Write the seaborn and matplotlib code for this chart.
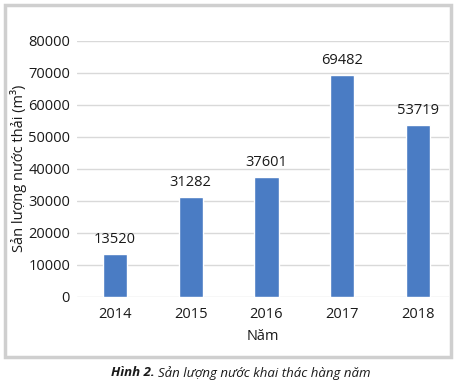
import matplotlib
matplotlib.use("Agg")
import matplotlib.pyplot as plt
import seaborn as sns
import pandas as pd
from matplotlib.patches import Rectangle

# data
years = ["2014", "2015", "2016", "2017", "2018"]
volumes = [13520, 31282, 37601, 69482, 53719]

df = pd.DataFrame({"year": years, "volume": volumes})

sns.set_style("white")
plt.rcParams["font.family"] = ["Open Sans", "DejaVu Sans"]

W, H = 457, 388
fig = plt.figure(figsize=(W / 100, H / 100), dpi=100)
ax = fig.add_axes([77 / W, 1 - 297 / H, (449 - 77) / W, (297 - 41) / H])

txt = "#1a1a1a"
fs = 10.5

sns.barplot(data=df, x="year", y="volume", color="#4a7cc4", width=0.32,
            saturation=1, ax=ax, zorder=3)

for i, v in enumerate(volumes):
    ax.text(i, v + 2200, str(v), ha="center", va="bottom", fontsize=fs, color=txt)

ax.set_ylim(0, 80000)
ax.set_xlim(-0.5, 4.41)
ax.set_yticks(range(0, 80001, 10000))
ax.yaxis.grid(True, color="#d9d9d9", linewidth=1, zorder=0)
for s in ax.spines.values():
    s.set_visible(False)
ax.tick_params(axis="both", length=0, labelsize=fs, colors=txt)
ax.tick_params(axis="y", pad=5)
ax.tick_params(axis="x", pad=7)
ax.set_xlabel("Năm", fontsize=fs, color=txt, labelpad=5)
ax.set_ylabel("Sản lượng nước thải (m³)", fontsize=fs, color=txt)
ax.yaxis.set_label_coords((27 - 77) / 372, (297 - 168) / 256)

# outer frame
fig.patches.append(Rectangle((5 / W, 1 - 357 / H), (451 - 5) / W, (357 - 5) / H,
                             transform=fig.transFigure, fill=False,
                             edgecolor="#cfcfcf", linewidth=2.5))

# caption
fig.text(155 / W, 1 - 373 / H, "Hình 2.", ha="right", va="center",
         fontsize=9.5, fontweight="bold", fontstyle="italic", color=txt)
fig.text(158 / W, 1 - 373 / H, "Sản lượng nước khai thác hàng năm", ha="left",
         va="center", fontsize=9.5, fontstyle="italic", color=txt)

fig.savefig("out.png", dpi=100)
